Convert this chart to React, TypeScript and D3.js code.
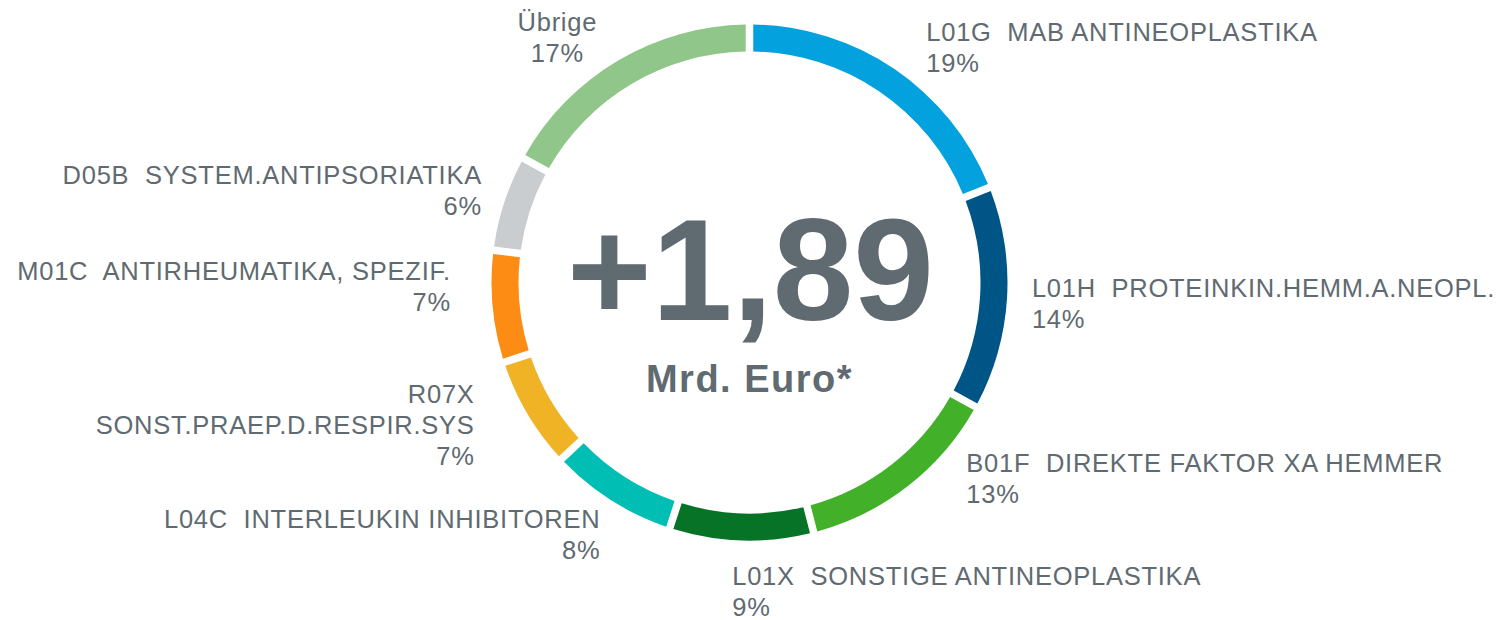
import React, { useEffect, useRef } from 'react';
import * as d3 from 'd3';

// ATC groups, clockwise from 12 o'clock
const categoryLines: string[][] = [
  ['L01G  MAB ANTINEOPLASTIKA'],
  ['L01H  PROTEINKIN.HEMM.A.NEOPL.'],
  ['B01F  DIREKTE FAKTOR XA HEMMER'],
  ['L01X  SONSTIGE ANTINEOPLASTIKA'],
  ['L04C  INTERLEUKIN INHIBITOREN'],
  ['R07X', 'SONST.PRAEP.D.RESPIR.SYS'],
  ['M01C  ANTIRHEUMATIKA, SPEZIF.'],
  ['D05B  SYSTEM.ANTIPSORIATIKA'],
  ['Übrige'],
];
const shares = [19, 14, 13, 9, 8, 7, 7, 6, 17];
const colors = [
  '#03a2df', '#005587', '#43b02a', '#067326', '#00beb4',
  '#efb325', '#fc8c14', '#c9cdd0', '#90c68a',
];
const centerValue = '+1,89';
const centerUnit = 'Mrd. Euro*';

// label placement: anchor + small nudge from the label-arc centroid
const labelAnchor = ['start', 'start', 'start', 'start', 'end', 'end', 'end', 'end', 'middle'];
const labelNudge: [number, number][] = [
  [11, 9], [-12, 2], [36, -37], [-8, 14], [9, 3], [-21, -8], [-5, -24], [13, -1], [-42, 9],
];

const DonutChart = () => {
  const svgRef = useRef<SVGSVGElement | null>(null);

  useEffect(() => {
    const svg = d3.select(svgRef.current);
    svg.selectAll('*').remove();

    const width = 1496;
    const height = 620;
    const cx = 749.5;
    const cy = 282.5;
    const outerR = 258;
    const innerR = 231;
    const textColor = '#5f6a71';
    const font = '"Liberation Sans", Arial, sans-serif';
    const lineH = 31;

    const pie = d3.pie<number>().sort(null).value(d => d);
    const arcs = pie(shares);

    const arc = d3.arc<d3.PieArcDatum<number>>()
      .innerRadius(innerR)
      .outerRadius(outerR)
      .padRadius(innerR)
      .padAngle(7.5 / innerR);

    const labelArc = d3.arc<d3.PieArcDatum<number>>()
      .innerRadius(295)
      .outerRadius(295);

    const g = svg.append('g').attr('transform', `translate(${cx},${cy})`);

    // ring
    g.selectAll('path')
      .data(arcs)
      .join('path')
      .attr('d', arc)
      .attr('fill', (_, i) => colors[i]);

    // labels
    arcs.forEach((d, i) => {
      const [x0, y0] = labelArc.centroid(d);
      const x = x0 + labelNudge[i][0];
      const y = y0 + labelNudge[i][1];
      const lines = [...categoryLines[i], `${shares[i]}%`];
      const firstBase = y - ((lines.length - 1) * lineH) / 2 + 9;
      const t = g.append('text')
        .attr('text-anchor', labelAnchor[i])
        .attr('fill', textColor)
        .attr('font-family', font)
        .attr('font-size', 25.5)
        .attr('letter-spacing', 0.75)
        .style('white-space', 'pre');
      lines.forEach((line, k) => {
        t.append('tspan')
          .attr('x', x)
          .attr('y', firstBase + k * lineH)
          .text(line);
      });
    });

    // center total
    g.append('text')
      .attr('x', 1)
      .attr('y', 37.5)
      .attr('text-anchor', 'middle')
      .attr('fill', textColor)
      .attr('font-family', font)
      .attr('font-weight', 'bold')
      .attr('font-size', 145)
      .text(centerValue);

    g.append('text')
      .attr('x', 0)
      .attr('y', 109.5)
      .attr('text-anchor', 'middle')
      .attr('fill', textColor)
      .attr('font-family', font)
      .attr('font-weight', 'bold')
      .attr('font-size', 38)
      .attr('letter-spacing', 1.5)
      .text(centerUnit);

    svg.attr('width', width).attr('height', height);
  }, []);

  return (
    <svg
      ref={svgRef}
      width={1496}
      height={620}
      viewBox="0 0 1496 620"
      style={{ position: 'fixed', left: 0, top: 0, background: '#fff' }}
    />
  );
};

export default function App() {
  return <DonutChart />;
}
